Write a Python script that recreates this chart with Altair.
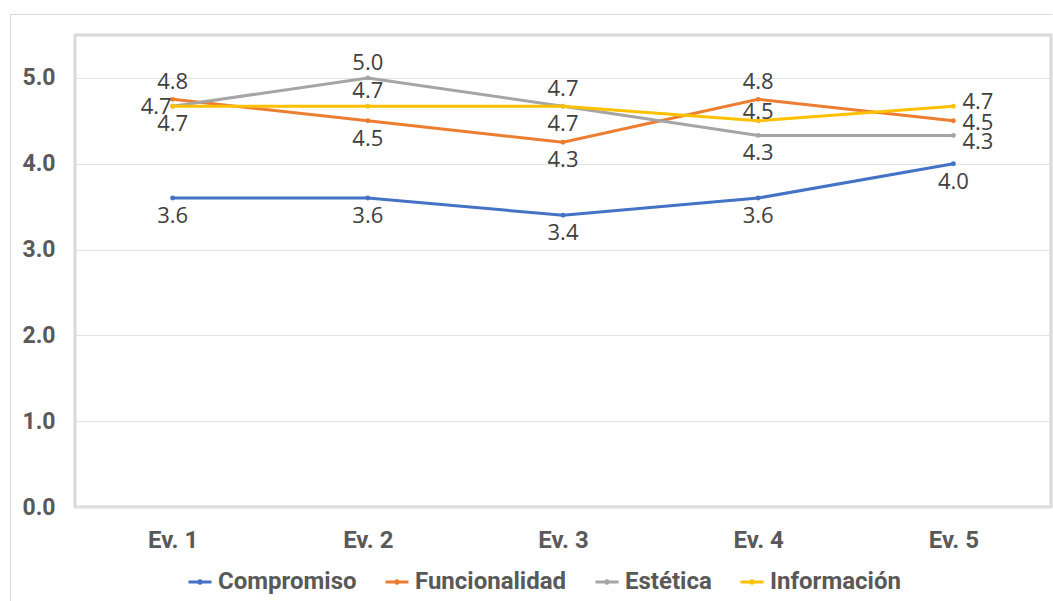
import altair as alt
import pandas as pd

categories = ["Ev. 1", "Ev. 2", "Ev. 3", "Ev. 4", "Ev. 5"]
series = ["Compromiso", "Funcionalidad", "Estética", "Información"]
compromiso = [3.6, 3.6, 3.4, 3.6, 4.0]
funcionalidad = [4.75, 4.5, 4.25, 4.75, 4.5]
estetica = [4.67, 5.0, 4.67, 4.33, 4.33]
informacion = [4.67, 4.67, 4.67, 4.5, 4.67]
colors = ["#4472C4", "#ED7D31", "#A5A5A5", "#FFC000"]

# label placement per point (a=above, as=above-small, b=below, l=left, r/ru/rd=right)
placement = {
    "Compromiso": ["b", "b", "b", "b", "b"],
    "Funcionalidad": ["a", "b", "b", "a", "r"],
    "Estética": ["l", "as", "a", "b", "rd"],
    "Información": ["b", "as", "b", "ass", "ru"],
}

values = {"Compromiso": compromiso, "Funcionalidad": funcionalidad,
          "Estética": estetica, "Información": informacion}
rows = []
for s in series:
    for i, c in enumerate(categories):
        rows.append({"Evaluación": c, "Serie": s, "Valor": values[s][i],
                     "pos": placement[s][i]})
df = pd.DataFrame(rows)

FONT_AX = "Roboto, sans-serif"
FONT_LBL = "Open Sans, Noto Sans, sans-serif"
AX_COLOR = "#595959"

W, H = 976, 472
PAD_L, PAD_T = 75, 35

xscale = alt.Scale(type="point", padding=0.5)
yscale = alt.Scale(domain=[0, 5.5], nice=False)

x = alt.X("Evaluación:N", sort=categories, title=None, scale=xscale,
          axis=alt.Axis(labelAngle=0, labelFontSize=24, labelFontWeight="bold",
                        labelColor=AX_COLOR, labelFont=FONT_AX, labelPadding=21,
                        ticks=False, domain=False, grid=False))
y = alt.Y("Valor:Q", title=None, scale=yscale,
          axis=alt.Axis(values=[0, 1, 2, 3, 4, 5], format=".1f", labelFontSize=23,
                        labelFontWeight="bold", labelColor=AX_COLOR, labelFont=FONT_AX,
                        labelPadding=20, ticks=False, domain=False,
                        gridColor="#e3e3e3", gridWidth=1.2))
color = alt.Color("Serie:N", sort=series, title=None,
                  scale=alt.Scale(domain=series, range=colors),
                  legend=alt.Legend(orient="none", direction="horizontal",
                                    legendX=112, legendY=534,
                                    labelFontSize=24, labelFontWeight="bold",
                                    labelColor=AX_COLOR, labelFont=FONT_AX,
                                    symbolType="M-1,0H1M0.1,0A0.1,0.1 0 1,1 -0.1,0A0.1,0.1 0 1,1 0.1,0",
                                    symbolStrokeWidth=3, symbolSize=529,
                                    columnPadding=22, labelOffset=5))

base = alt.Chart(df)
lines = base.mark_line(strokeWidth=3).encode(x=x, y=y, color=color)
pts = base.mark_point(filled=True, size=24, opacity=1).encode(
    x=x, y=y, color=alt.Color("Serie:N", scale=alt.Scale(domain=series, range=colors), legend=None))

offsets = {
    "a": dict(dy=-17, dx=0, align="center"),
    "as": dict(dy=-15, dx=0, align="center"),
    "ass": dict(dy=-9, dx=0, align="center"),
    "b": dict(dy=18, dx=0, align="center"),
    "l": dict(dy=1, dx=-1, align="right"),
    "r": dict(dy=2, dx=9, align="left"),
    "ru": dict(dy=-4, dx=9, align="left"),
    "rd": dict(dy=7, dx=9, align="left"),
}
texts = []
for code, o in offsets.items():
    texts.append(
        base.transform_filter(alt.datum.pos == code).mark_text(
            fontSize=22, font=FONT_LBL, color="#404040", baseline="middle", **o
        ).encode(x=alt.X("Evaluación:N", sort=categories, scale=xscale),
                 y=alt.Y("Valor:Q", scale=yscale),
                 text=alt.Text("Valor:Q", format=".1f"))
    )

# outer chart frame (thin gray line on left and top, as in the reference)
frame_top = alt.Chart(df).mark_rule(color="#d9d9d9", strokeWidth=1).encode(
    x=alt.value(10.5 - PAD_L), x2=alt.value(1052 - PAD_L), y=alt.value(14.5 - PAD_T))
frame_left = alt.Chart(df).mark_rule(color="#d9d9d9", strokeWidth=1).encode(
    x=alt.value(10.5 - PAD_L), y=alt.value(14.5 - PAD_T), y2=alt.value(601 - PAD_T))

chart = alt.layer(frame_top, frame_left, lines, pts, *texts).properties(
    width=W, height=H,
    padding={"left": PAD_L, "top": PAD_T, "right": 2, "bottom": 94},
    autosize=alt.AutoSizeParams(type="none"),
    background="white",
).configure_view(stroke="#d9d9d9", strokeWidth=3)

chart.save("out.html", embed_options={"renderer": "svg", "actions": False})
